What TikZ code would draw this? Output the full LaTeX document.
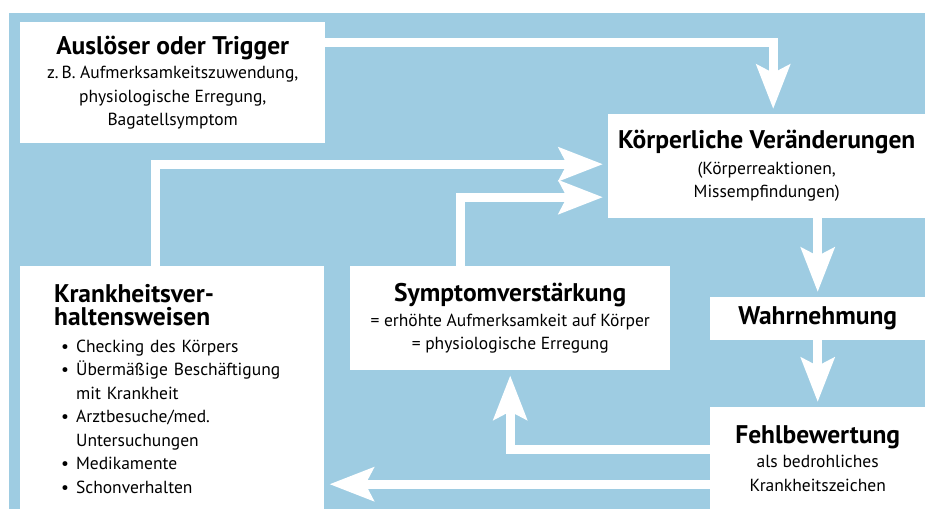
\documentclass[tikz,border=0pt]{standalone}
\usepackage{fontspec}
\setmainfont{PT Sans}
\usetikzlibrary{arrows.meta,positioning}
\definecolor{hblau}{RGB}{158,204,226}

\tikzset{
  box/.style={fill=white, inner sep=0pt, align=center, anchor=north west,
    font=\fontsize{17.5}{23.5}\selectfont},
  pfeil/.style={draw=white, line width=9pt, shorten >=5pt,
    -{Stealth[length=44pt,width=33pt,inset=8pt]}},
}
\newcommand{\titel}[1]{{\fontsize{25.5}{27}\selectfont\bfseries #1}}

\begin{document}
\begin{tikzpicture}[x=1pt,y=-1pt]
        \useasboundingbox (0,0) rectangle (925,509);
        \fill[hblau] (9,13) rectangle (925,509);
        % Kaesten
        \node[box,minimum width=305pt,minimum height=121pt] (trigger) at (20,22)
          {\titel{Auslöser oder Trigger}\\[1pt] z.\,B. Aufmerksamkeitszuwendung,\\ physiologische Erregung,\\ Bagatellsymptom};
        \node[box,minimum width=317pt,minimum height=104pt] (koerper) at (608,114)
          {\titel{Körperliche Veränderungen}\\[2pt] (Körperreaktionen,\\ Missempfindungen)};
        \node[box,minimum width=304pt,minimum height=252pt,text width=236pt,align=left] (krank) at (20,266)
          {{\fontsize{25.5}{27}\selectfont\bfseries Krankheitsver-\\ haltensweisen}\par\vspace{9pt}
           \begin{tabular}{@{\hspace{7pt}}l@{\hspace{7pt}}l@{}}
             \textbullet & Checking des Körpers\\
             \textbullet & Übermäßige Beschäftigung\\
                         & mit Krankheit\\
             \textbullet & Arztbesuche/med.\\
                         & Untersuchungen\\
             \textbullet & Medikamente\\
             \textbullet & Schonverhalten
           \end{tabular}};
        \node[box,minimum width=320pt,minimum height=104pt] (symptom) at (350,266)
          {\titel{Symptomverstärkung}\\[1pt] = erhöhte Aufmerksamkeit auf Körper\\ = physiologische Erregung};
        \node[box,minimum width=215pt,minimum height=43pt] (wahr) at (710,297)
          {\titel{Wahrnehmung}};
        \node[box,minimum width=215pt,minimum height=102pt] (fehl) at (710,407)
          {\titel{Fehlbewertung}\\[1pt] als bedrohliches\\ Krankheitszeichen};
        % Pfeile
        \draw[pfeil] ([yshift=-20.5pt]trigger.north east) -| ([xshift=6.5pt]koerper.north);
        \draw[pfeil] ([xshift=-17pt]krank.north) |- ([yshift=2pt]koerper.west);
        \draw[pfeil] ([xshift=-50pt]symptom.north) |- ([yshift=-31pt]koerper.west);
        \draw[pfeil] (wahr.north |- koerper.south) -- (wahr.north);
        \draw[pfeil] (wahr.south) -- (fehl.north);
        \draw[pfeil] ([yshift=8.5pt]fehl.west) -| (symptom.south);
        \draw[pfeil] ([yshift=-26pt]fehl.west) -- ([yshift=-26pt]fehl.west -| krank.east);
\end{tikzpicture}
\end{document}
